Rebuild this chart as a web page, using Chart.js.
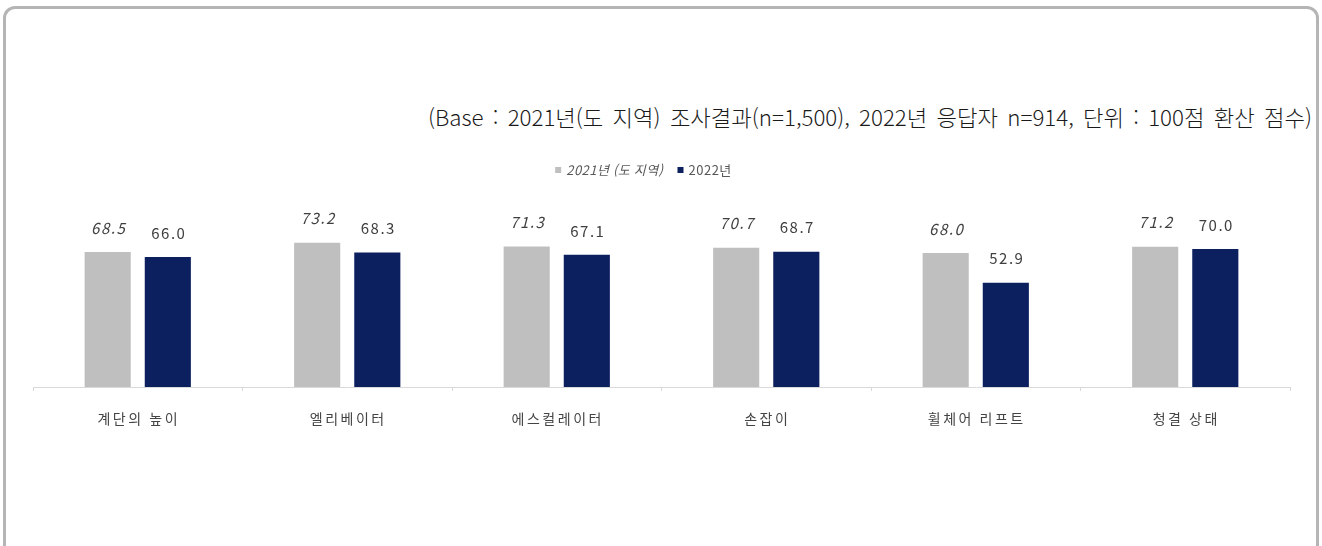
<!DOCTYPE html>
<html lang="ko">
<head>
<meta charset="utf-8">
<script src="https://cdn.jsdelivr.net/npm/chart.js@4/dist/chart.umd.min.js"></script>
<style>
  html, body { margin: 0; padding: 0; background: #fff; overflow: hidden; }
  #wrap { position: relative; width: 1322px; height: 546px; }
  #frame {
    position: absolute; left: 3px; top: 6px; width: 1316px; height: 580px;
    border: 3px solid #b5b5b5; border-radius: 12px; box-sizing: border-box;
  }
  #note {
    position: absolute; right: 10px; top: 102px; white-space: nowrap;
    font-family: "Noto Sans CJK KR", "Noto Sans", sans-serif; font-size: 22px;
    font-weight: 300; color: #1a1a1a; transform-origin: right center; line-height: 28px;
    word-spacing: 3px;
  }
  canvas { position: absolute; left: 0; top: 0; }
</style>
</head>
<body>
<div id="wrap">
  <div id="frame"></div>
  <div id="note">(Base : 2021년(도 지역) 조사결과(n=1,500), 2022년 응답자 n=914, 단위 : 100점 환산 점수)</div>
  <canvas id="scoreChart" width="1322" height="546"></canvas>
</div>
<script>
// categories and scores
const categories = ['계단의 높이', '엘리베이터', '에스컬레이터', '손잡이', '휠체어 리프트', '청결 상태'];
const seriesNames = ['2021년 (도 지역)', '2022년'];
const scores2021 = [68.5, 73.2, 71.3, 70.7, 68.0, 71.2];
const scores2022 = [66.0, 68.3, 67.1, 68.7, 52.9, 70.0];
const seriesColors = ['#bfbfbf', '#0c1f5e'];

const FONT = '"Noto Sans CJK KR", "Noto Sans", sans-serif';

// squeeze the note line into its box
const note = document.getElementById('note');
note.style.transform = 'scaleX(' + (884 / note.offsetWidth) + ')';

// value labels above each bar, 2021 in italics
const valueLabels = {
  id: 'valueLabels',
  afterDatasetsDraw(chart) {
    const ctx = chart.ctx;
    ctx.save();
    ctx.textAlign = 'center';
    ctx.textBaseline = 'middle';
    ctx.fillStyle = '#404040';
    ctx.letterSpacing = '1.5px';
    chart.data.datasets.forEach((ds, i) => {
      const meta = chart.getDatasetMeta(i);
      ctx.font = (i === 0 ? 'italic ' : '') + '15px ' + FONT;
      meta.data.forEach((bar, j) => {
        ctx.fillText(ds.data[j].toFixed(1), bar.x + 1, bar.y - 24);
      });
    });
    ctx.restore();
  }
};

// category names under the axis, letter-spaced
const categoryLabels = {
  id: 'categoryLabels',
  afterDraw(chart) {
    const ctx = chart.ctx;
    const xScale = chart.scales.x;
    ctx.save();
    ctx.font = '14px ' + FONT;
    ctx.letterSpacing = '2.5px';
    ctx.textAlign = 'center';
    ctx.textBaseline = 'middle';
    ctx.fillStyle = '#444444';
    chart.data.labels.forEach((lbl, i) => {
      ctx.fillText(lbl, xScale.getPixelForValue(i) + 1, chart.chartArea.bottom + 32);
    });
    ctx.restore();
  }
};

// small square-marker legend, first entry in italics
const seriesLegend = {
  id: 'seriesLegend',
  afterDraw(chart) {
    const ctx = chart.ctx;
    const y = chart.chartArea.top - 20;
    const box = 6, gapBox = 5, gapItem = 14;
    ctx.save();
    ctx.textBaseline = 'middle';
    ctx.letterSpacing = '0.5px';
    const fonts = chart.data.datasets.map((ds, i) => (i === 0 ? 'italic ' : '') + '13px ' + FONT);
    const widths = chart.data.datasets.map((ds, i) => {
      ctx.font = fonts[i];
      return ctx.measureText(ds.label).width;
    });
    let total = 0;
    widths.forEach((w, i) => { total += box + gapBox + w + (i ? gapItem : 0); });
    let x = (chart.chartArea.left + chart.chartArea.right) / 2 - 18 - total / 2;
    chart.data.datasets.forEach((ds, i) => {
      ctx.fillStyle = ds.backgroundColor;
      ctx.fillRect(x, y - box / 2, box, box);
      x += box + gapBox;
      ctx.font = fonts[i];
      ctx.fillStyle = '#595959';
      ctx.fillText(ds.label, x, y);
      x += widths[i] + gapItem;
    });
    ctx.restore();
  }
};

new Chart(document.getElementById('scoreChart'), {
  type: 'bar',
  data: {
    labels: categories,
    datasets: [
      {
        label: seriesNames[0],
        data: scores2021,
        backgroundColor: seriesColors[0],
        categoryPercentage: 0.574,
        barPercentage: 0.767
      },
      {
        label: seriesNames[1],
        data: scores2022,
        backgroundColor: seriesColors[1],
        categoryPercentage: 0.574,
        barPercentage: 0.767
      }
    ]
  },
  options: {
    responsive: false,
    animation: false,
    layout: { padding: { left: 33, right: 32, top: 190, bottom: 155 } },
    scales: {
      x: {
        grid: { display: true, drawOnChartArea: false, drawTicks: true, tickLength: 4, color: '#d9d9d9' },
        border: { display: true, color: '#d9d9d9', width: 1 },
        ticks: { display: false }
      },
      y: {
        display: false,
        min: 0,
        max: 100
      }
    },
    plugins: {
      legend: { display: false },
      tooltip: { enabled: false }
    }
  },
  plugins: [valueLabels, categoryLabels, seriesLegend]
});
</script>
</body>
</html>
